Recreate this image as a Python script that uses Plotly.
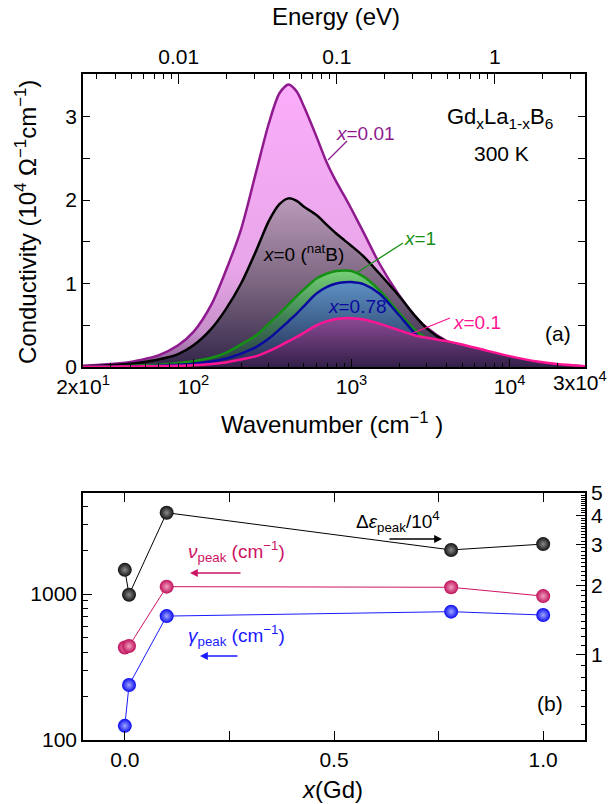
import math
import plotly.graph_objects as go

W, H = 609, 804
def PX(x): return x / W
def PY(y): return 1 - y / H

FONT = "Liberation Sans, Arial, sans-serif"

# ---------------- panel (a) data ----------------
wavenumber = [20, 30, 40, 50, 60, 80, 100, 130, 160, 200, 250, 300, 350, 400, 450, 500,
              600, 700, 800, 900, 1000, 1200, 1500, 2000, 2500, 3000, 4000, 5000, 7000,
              10000, 15000, 20000, 30000]
sigma_x001 = [0.015, 0.035, 0.06, 0.10, 0.14, 0.26, 0.42, 0.75, 1.15, 1.65, 2.35, 2.92, 3.28, 3.385,
              3.3, 3.12, 2.76, 2.44, 2.22, 2.05, 1.89, 1.6, 1.24, 0.86, 0.62, 0.47, 0.31, 0.24, 0.155,
              0.09, 0.045, 0.025, 0.008]
sigma_x0 = [0.01, 0.022, 0.04, 0.064, 0.09, 0.155, 0.26, 0.46, 0.69, 1.0, 1.4, 1.75, 1.95, 2.02,
            1.99, 1.92, 1.82, 1.7, 1.6, 1.52, 1.45, 1.32, 1.12, 0.85, 0.62, 0.46, 0.3, 0.23, 0.15,
            0.09, 0.04, 0.02, 0.006]
sigma_x1 = [0.003, 0.007, 0.012, 0.02, 0.028, 0.048, 0.07, 0.11, 0.17, 0.27, 0.38, 0.52, 0.64, 0.75,
            0.85, 0.93, 1.06, 1.12, 1.15, 1.155, 1.15, 1.08, 0.92, 0.65, 0.45, 0.34, 0.22, 0.16, 0.1,
            0.06, 0.03, 0.018, 0.006]
sigma_x078 = [0.002, 0.004, 0.007, 0.01, 0.015, 0.027, 0.04, 0.065, 0.1, 0.16, 0.24, 0.34, 0.45, 0.55,
              0.64, 0.73, 0.88, 0.96, 1.0, 1.015, 1.017, 0.99, 0.88, 0.62, 0.41, 0.28, 0.16, 0.11, 0.06,
              0.03, 0.012, 0.006, 0.002]
sigma_x01 = [0.002, 0.004, 0.006, 0.008, 0.01, 0.015, 0.02, 0.035, 0.055, 0.09, 0.13, 0.19, 0.25, 0.31,
             0.36, 0.41, 0.5, 0.55, 0.575, 0.585, 0.585, 0.57, 0.52, 0.44, 0.38, 0.35, 0.31, 0.27, 0.2,
             0.13, 0.065, 0.035, 0.01]

# ---------------- panel (b) data ----------------
x_gd = [0.0, 0.01, 0.1, 0.78, 1.0]
delta_eps = [2.33, 1.82, 4.11, 2.84, 3.01]     # /10^4, right axis
nu_peak = [430, 440, 1123, 1112, 968]          # cm^-1, left axis
gamma_peak = [125, 238, 706, 757, 718]         # cm^-1, left axis

# tick labels
wn_tickvals = [20, 100, 1000, 10000, 30000]
wn_ticktext = ["2x10<sup>1</sup>", "10<sup>2</sup>", "10<sup>3</sup>", "10<sup>4</sup>", "3x10<sup>4</sup>"]
ev_tickvals = [0.01, 0.1, 1]
ev_ticktext = ["0.01", "0.1", "1"]

EV = 8065.54

fig = go.Figure()

curves = [
    (sigma_x001, "#8e1a8e", [[0, "#5a3a6c"], [0.04, "#9a6aa2"], [0.12, "#c690ca"],
                             [0.35, "#e8a6e8"], [1, "#fbadfb"]]),
    (sigma_x0, "#000000", [[0, "#33264a"], [0.5, "#7c6680"], [1, "#ba9aba"]]),
    (sigma_x1, "#159015", [[0, "#2b3444"], [0.5, "#3f7f55"], [1, "#76d076"]]),
    (sigma_x078, "#0a0aa0", [[0, "#2a2850"], [0.5, "#3d5f8a"], [1, "#5e90c4"]]),
    (sigma_x01, "#ff1493", [[0, "#33204a"], [1, "#8c4a93"]]),
]
for ys, lc, cs in curves:
    fig.add_trace(go.Scatter(
        x=wavenumber, y=ys, mode="lines", xaxis="x", yaxis="y",
        line=dict(color=lc, width=2.5, shape="spline", smoothing=0.8),
        fill="tozeroy",
        fillgradient=dict(type="vertical", colorscale=cs, start=0, stop=max(ys)),
        showlegend=False, hoverinfo="skip"))

# invisible trace for the energy axis
fig.add_trace(go.Scatter(x=[wavenumber[0] / EV, wavenumber[-1] / EV], y=[0, 0], xaxis="x2", yaxis="y",
                         mode="markers", marker=dict(opacity=0), showlegend=False, hoverinfo="skip"))

# panel (b)
def ball(c, hl):
    return dict(size=14, color=c, gradient=dict(type="radial", color=hl), line=dict(width=0))

fig.add_trace(go.Scatter(x=x_gd, y=delta_eps, xaxis="x3", yaxis="y4", mode="lines+markers",
                         line=dict(color="black", width=1), marker=ball("#111111", "#8a8a8a"),
                         showlegend=False))
fig.add_trace(go.Scatter(x=x_gd, y=nu_peak, xaxis="x3", yaxis="y3", mode="lines+markers",
                         line=dict(color="#cc1464", width=1), marker=ball("#c0105a", "#f0a0c0"),
                         showlegend=False))
fig.add_trace(go.Scatter(x=x_gd, y=gamma_peak, xaxis="x3", yaxis="y3", mode="lines+markers",
                         line=dict(color="#1a1aff", width=1), marker=ball("#0a0af0", "#a0a8ff"),
                         showlegend=False))

XD = [PX(83), PX(585)]
YA = [PY(367), PY(74)]
YB = [PY(740), PY(493)]

tick_font = dict(family=FONT, size=21, color="black")
common = dict(showgrid=False, zeroline=False, showline=True, linecolor="black", linewidth=1.5,
              ticks="inside", tickcolor="black", tickwidth=1.3, automargin=False, tickfont=tick_font)

def minor_log(lo, hi):
    vals = []
    e = math.floor(math.log10(lo))
    while 10 ** e <= hi:
        for m in range(2, 10):
            v = m * 10 ** e
            if lo < v < hi:
                vals.append(v)
        e += 1
    return vals

wn_min, wn_max = wavenumber[0], wavenumber[-1]
EPS = 1e-4

fig.update_layout(
    width=W, height=H, margin=dict(l=0, r=0, t=0, b=0),
    paper_bgcolor="white", plot_bgcolor="rgba(0,0,0,0)",
    font=dict(family=FONT, color="black"),
    xaxis=dict(domain=XD, anchor="y", type="log",
               range=[math.log10(wn_min) - EPS, math.log10(wn_max) + EPS],
               tickmode="array", tickvals=wn_tickvals,
               # last label is drawn separately so it stays inside the picture
               ticktext=wn_ticktext[:-1] + [""],
               ticklen=8, mirror=False,
               minor=dict(ticks="inside", tickmode="array", tickvals=minor_log(wn_min, wn_max),
                          ticklen=4, tickcolor="black", tickwidth=1, showgrid=False),
               **common),
    xaxis2=dict(overlaying="x", side="top", anchor="y", type="log",
                range=[math.log10(wn_min / EV) - EPS, math.log10(wn_max / EV) + EPS],
                tickmode="array", tickvals=ev_tickvals, ticktext=ev_ticktext,
                ticklen=10,
                minor=dict(ticks="inside", tickmode="array", tickvals=minor_log(wn_min / EV, wn_max / EV),
                           ticklen=5, tickcolor="black", tickwidth=1, showgrid=False),
                **common),
    yaxis=dict(domain=YA, anchor="x", range=[0, 3.51],
               tickmode="array", tickvals=[0, 0.5, 1, 1.5, 2, 2.5, 3, 3.5],
               ticktext=["0", "", "1", "", "2", "", "3", ""], ticklen=7, mirror="ticks",
               **common),
    xaxis3=dict(domain=XD, anchor="y3", range=[-0.1, 1.1],
                tickmode="array", tickvals=[0, 0.5, 1.0], ticktext=["0.0", "0.5", "1.0"],
                ticklen=9, mirror="allticks",
                minor=dict(ticks="inside", tickmode="array", tickvals=[0.25, 0.75],
                           ticklen=5, tickcolor="black", tickwidth=1.3),
                **common),
    yaxis3=dict(domain=YB, anchor="x3", type="log", range=[2, 3.692],
                tickmode="array", tickvals=[100, 1000], ticktext=["100", "1000"], ticklen=9,
                minor=dict(ticks="inside", tickmode="array", tickvals=minor_log(100, 4900),
                           ticklen=5, tickcolor="black", tickwidth=1.3),
                **common),
    yaxis4=dict(overlaying="y3", side="right", anchor="x3", type="log", range=[-0.367, 0.699],
                tickmode="array", tickvals=[1, 2, 3, 4, 5], ticktext=["1", "2", "3", "4", "5"], ticklen=9,
                minor=dict(ticks="inside", tickmode="array",
                           tickvals=[round(0.1 * k, 1) for k in range(5, 50) if k % 10 != 0],
                           ticklen=4, tickcolor="black", tickwidth=1),
                **common),
)

ann = []
def T(x, y, text, size=20, color="black", xanchor="center", yanchor="middle", angle=0):
    ann.append(dict(x=PX(x), y=PY(y), xref="paper", yref="paper", text=text, showarrow=False,
                    font=dict(family=FONT, size=size, color=color), xanchor=xanchor, yanchor=yanchor,
                    textangle=angle))

T(580, 381, wn_ticktext[-1], 21)
T(336, 16, "Energy (eV)", 24)
T(332, 423, "Wavenumber (cm<sup>\u22121</sup> )", 24)
T(26, 222, "Conductivity (10<sup>4</sup> \u03a9<sup>\u22121</sup>cm<sup>\u22121</sup>)", 24, angle=-90)
T(332, 789, "<i>x</i>(Gd)", 24)
T(500, 118, "Gd<sub>x</sub>La<sub>1-x</sub>B<sub>6</sub>", 22)
T(501, 153, "300 K", 21)
T(558, 333, "(a)", 21)
T(550, 703, "(b)", 21)
T(334, 133, "<i>x</i>=0.01", 19, "#8e1a8e", xanchor="left")
T(261, 253, "<i>x</i>=0 (<sup>nat</sup>B)", 19, "black", xanchor="left")
T(402, 239, "<i>x</i>=1", 19, "#159015", xanchor="left")
T(326, 306, "<i>x</i>=0.78", 19, "#0a0aa0", xanchor="left")
T(451, 322, "<i>x</i>=0.1", 19, "#ff1493", xanchor="left")
T(354, 521, "\u0394<i>\u03b5</i><sub>peak</sub>/10<sup>4</sup>", 19, "black", xanchor="left")
T(186, 551, "<i>\u03bd</i><sub>peak</sub> (cm<sup>\u22121</sup>)", 19, "#cc1464", xanchor="left")
T(186, 635, "<i>\u03b3</i><sub>peak</sub> (cm<sup>\u22121</sup>)", 19, "#1a1aff", xanchor="left")

# arrows (tail given as pixel offset from head)
def arrow(x0, y0, x1, y1, color):
    ann.append(dict(x=PX(x1), y=PY(y1), xref="paper", yref="paper",
                    ax=x0 - x1, ay=y0 - y1, axref="pixel", ayref="pixel", text="", showarrow=True,
                    arrowhead=2, arrowsize=1.2, arrowwidth=1.3, arrowcolor=color))
arrow(388, 539, 442, 539, "black")
arrow(242, 573, 190, 573, "#cc1464")
arrow(239, 656, 200, 656, "#1a1aff")
fig.update_layout(annotations=ann)

shapes = []
def leader(x0, y0, x1, y1, color):
    shapes.append(dict(type="line", xref="paper", yref="paper", x0=PX(x0), y0=PY(y0),
                       x1=PX(x1), y1=PY(y1), line=dict(color=color, width=1.3)))
leader(328, 160, 347, 141, "#8e1a8e")
leader(358, 272, 403, 243, "#159015")
leader(413, 333, 450, 318, "#ff1493")
fig.update_layout(shapes=shapes)

fig.write_html("out.html")
